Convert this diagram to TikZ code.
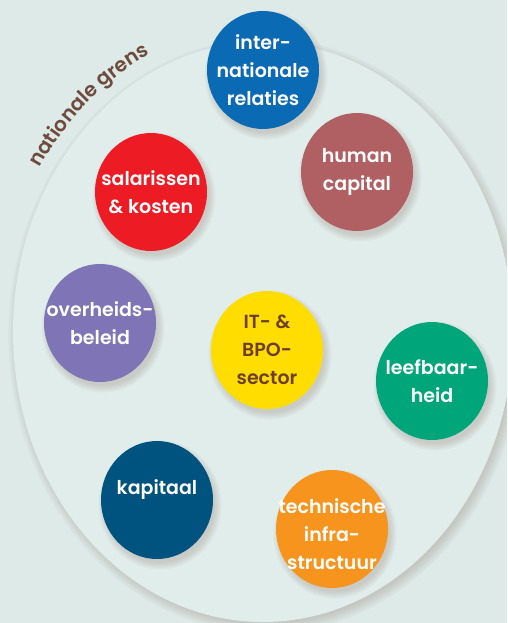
\documentclass[tikz,border=0pt]{standalone}
\usepackage{fontspec}
\setmainfont{Poppins}[BoldFont={Poppins SemiBold}]
\usetikzlibrary{shapes.geometric,decorations.text,calc}
\definecolor{bg}{HTML}{DDEAE8}
\definecolor{ellfill}{HTML}{E0EDEB}
\definecolor{shadowc}{HTML}{8C7566}
\definecolor{cblue}{HTML}{0A6AB4}
\definecolor{chuman}{HTML}{B06062}
\definecolor{cred}{HTML}{ED1C24}
\definecolor{cpurple}{HTML}{7F74B5}
\definecolor{cyellow}{HTML}{FFDD00}
\definecolor{cgreen}{HTML}{00A67A}
\definecolor{cnavy}{HTML}{00537E}
\definecolor{corange}{HTML}{F7941D}
\definecolor{cbrown}{HTML}{6B3E2E}
\definecolor{arctext}{HTML}{6E4B3C}
\tikzset{
  bub/.style={ellipse, minimum width=112pt, minimum height=118pt, inner sep=0pt},
  bubtext/.style={align=center, inner sep=0pt, font=\fontsize{19}{28}\selectfont\bfseries},
}
% name, position, fill, text colour, text shift, text
\newcommand\bubble[6]{%
  \foreach \k in {0,...,4}{\fill[shadowc, opacity=0.06] ($(#2)+(3,5)$) ellipse [x radius=55+\k*1.6, y radius=58+\k*1.6];}
  \node[bub, fill=#3, label={[bubtext, text=#4, yshift=#5]center:{#6}}] (#1) at (#2) {};}
\begin{document}
\begin{tikzpicture}[x=1pt,y=-1pt]
\useasboundingbox (0,0) rectangle (507,623);
\clip (0,0) rectangle (507,623);
\fill[bg] (0,0) rectangle (507,623);
% outer egg-shaped border with soft shadow
\foreach \k in {0,...,6}{\fill[shadowc, opacity=0.045] (266,336) ellipse [x radius=248+\k*1.6, y radius=288+\k*1.6];}
\fill[ellfill] (263,332) ellipse [x radius=250, y radius=290];
% arc label
\path[decorate, decoration={text along path, text align=left,
  text format delimiters={|}{|},
  text={|\fontsize{20}{20}\selectfont\bfseries\color{arctext}|nationale grens}}]
  (40,168) arc[start angle=212.3, end angle=262, x radius=265, y radius=308];
% bubbles
\bubble{intl}{263,70}{cblue}{white}{0pt}{inter-\\nationale\\relaties}
\bubble{human}{357,172}{chuman}{white}{0pt}{human\\capital}
\bubble{sal}{151,192}{cred}{white}{0pt}{salarissen\\\& kosten}
\bubble{over}{100,323}{cpurple}{white}{0pt}{overheids-\\beleid}
\bubble{it}{267,350}{cyellow}{cbrown}{0pt}{IT- \&\\BPO-\\sector}
\bubble{leef}{432,381}{cgreen}{white}{0pt}{leefbaar-\\heid}
\bubble{kap}{157,500}{cnavy}{white}{10pt}{kapitaal}
\bubble{tech}{332,529}{corange}{white}{-5pt}{technische\\infra-\\structuur}
\end{tikzpicture}
\end{document}
